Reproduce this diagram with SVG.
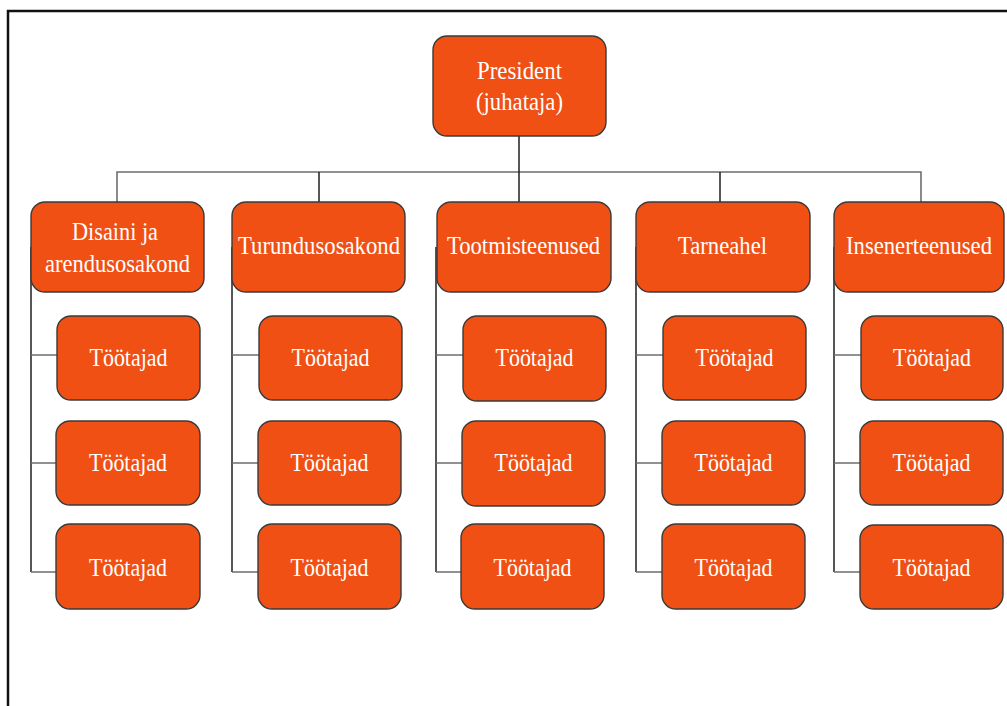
<svg xmlns="http://www.w3.org/2000/svg" width="1007" height="706" viewBox="0 0 1007 706">
  <style>
    .box { fill: #F05014; stroke: #3a3a3a; stroke-width: 1.4; }
    .lbl { fill: #ffffff; font-family: "Liberation Serif", "Times New Roman", serif; font-size: 26px; text-anchor: middle; }
    .ln { fill: none; stroke: #1e1e1e; stroke-width: 1.5; }
    .lg { fill: none; stroke: #6e6e6e; stroke-width: 1.6; }
  </style>
  <rect x="0" y="0" width="1007" height="706" fill="#ffffff"/>
  <!-- page frame -->
  <rect x="8" y="11" width="1010" height="710" fill="none" stroke="#111111" stroke-width="2.5"/>

  <g id="connectors">
    <!-- top bus -->
    <path class="lg" d="M117 202 V172 H921 V202"/>
    <path class="ln" d="M519 136 V202"/>
    <path class="ln" d="M319 172 V202"/>
    <path class="ln" d="M720 172 V202"/>
    <!-- column spines with branches -->
    <path class="ln" d="M31 247 V572"/>
    <path class="lg" d="M31 355 H57 M31 463 H57 M31 572 H57"/>
    <path class="ln" d="M232 247 V572"/>
    <path class="lg" d="M232 355 H259 M232 463 H259 M232 572 H259"/>
    <path class="ln" d="M436 247 V572"/>
    <path class="lg" d="M436 355 H463 M436 463 H463 M436 572 H463"/>
    <path class="ln" d="M636 247 V572"/>
    <path class="lg" d="M636 355 H663 M636 463 H663 M636 572 H663"/>
    <path class="ln" d="M834 247 V572"/>
    <path class="lg" d="M834 355 H861 M834 463 H861 M834 572 H861"/>
  </g>

  <g id="president">
    <rect class="box" x="433" y="36" width="173" height="100" rx="14"/>
    <text class="lbl" x="519.5" y="79" textLength="85" lengthAdjust="spacingAndGlyphs">President</text>
    <text class="lbl" x="519.5" y="110" textLength="87" lengthAdjust="spacingAndGlyphs">(juhataja)</text>
  </g>

  <g id="dept-disain">
    <rect class="box" x="31" y="202" width="173" height="90" rx="14"/>
    <text class="lbl" x="115" y="240" textLength="86" lengthAdjust="spacingAndGlyphs">Disaini ja</text>
    <text class="lbl" x="117.5" y="272" textLength="145" lengthAdjust="spacingAndGlyphs">arendusosakond</text>
  </g>
  <g id="dept-turundus">
    <rect class="box" x="232" y="202" width="173" height="90" rx="14"/>
    <text class="lbl" x="319" y="254" textLength="162" lengthAdjust="spacingAndGlyphs">Turundusosakond</text>
  </g>
  <g id="dept-tootmine">
    <rect class="box" x="437" y="202" width="174" height="90" rx="14"/>
    <text class="lbl" x="523.5" y="254" textLength="153" lengthAdjust="spacingAndGlyphs">Tootmisteenused</text>
  </g>
  <g id="dept-tarneahel">
    <rect class="box" x="636" y="202" width="174" height="90" rx="14"/>
    <text class="lbl" x="722.5" y="254" textLength="89" lengthAdjust="spacingAndGlyphs">Tarneahel</text>
  </g>
  <g id="dept-insener">
    <rect class="box" x="834" y="202" width="170" height="90" rx="14"/>
    <text class="lbl" x="919" y="254" font-size="25" textLength="146" lengthAdjust="spacingAndGlyphs">Insenerteenused</text>
  </g>

  <!-- staff boxes -->
  <g id="staff-1a"><rect class="box" x="57" y="316" width="143" height="84" rx="14"/><text class="lbl" x="128.5" y="366" textLength="78" lengthAdjust="spacingAndGlyphs">Töötajad</text></g>
  <g id="staff-1b"><rect class="box" x="56" y="421" width="144" height="84" rx="14"/><text class="lbl" x="128" y="471" textLength="78" lengthAdjust="spacingAndGlyphs">Töötajad</text></g>
  <g id="staff-1c"><rect class="box" x="56" y="524" width="144" height="85" rx="14"/><text class="lbl" x="128" y="576" textLength="78" lengthAdjust="spacingAndGlyphs">Töötajad</text></g>

  <g id="staff-2a"><rect class="box" x="259" y="316" width="143" height="84" rx="14"/><text class="lbl" x="330.5" y="366" textLength="78" lengthAdjust="spacingAndGlyphs">Töötajad</text></g>
  <g id="staff-2b"><rect class="box" x="258" y="421" width="143" height="84" rx="14"/><text class="lbl" x="329.5" y="471" textLength="78" lengthAdjust="spacingAndGlyphs">Töötajad</text></g>
  <g id="staff-2c"><rect class="box" x="258" y="524" width="143" height="85" rx="14"/><text class="lbl" x="329.5" y="576" textLength="78" lengthAdjust="spacingAndGlyphs">Töötajad</text></g>

  <g id="staff-3a"><rect class="box" x="463" y="316" width="143" height="85" rx="14"/><text class="lbl" x="534.5" y="366" textLength="78" lengthAdjust="spacingAndGlyphs">Töötajad</text></g>
  <g id="staff-3b"><rect class="box" x="462" y="421" width="143" height="85" rx="14"/><text class="lbl" x="533.5" y="471" textLength="78" lengthAdjust="spacingAndGlyphs">Töötajad</text></g>
  <g id="staff-3c"><rect class="box" x="461" y="524" width="143" height="85" rx="14"/><text class="lbl" x="532.5" y="576" textLength="78" lengthAdjust="spacingAndGlyphs">Töötajad</text></g>

  <g id="staff-4a"><rect class="box" x="663" y="316" width="143" height="84" rx="14"/><text class="lbl" x="734.5" y="366" textLength="78" lengthAdjust="spacingAndGlyphs">Töötajad</text></g>
  <g id="staff-4b"><rect class="box" x="662" y="421" width="143" height="84" rx="14"/><text class="lbl" x="733.5" y="471" textLength="78" lengthAdjust="spacingAndGlyphs">Töötajad</text></g>
  <g id="staff-4c"><rect class="box" x="662" y="524" width="143" height="85" rx="14"/><text class="lbl" x="733.5" y="576" textLength="78" lengthAdjust="spacingAndGlyphs">Töötajad</text></g>

  <g id="staff-5a"><rect class="box" x="861" y="316" width="142" height="84" rx="14"/><text class="lbl" x="932" y="366" textLength="78" lengthAdjust="spacingAndGlyphs">Töötajad</text></g>
  <g id="staff-5b"><rect class="box" x="860" y="421" width="143" height="84" rx="14"/><text class="lbl" x="931.5" y="471" textLength="78" lengthAdjust="spacingAndGlyphs">Töötajad</text></g>
  <g id="staff-5c"><rect class="box" x="860" y="525" width="143" height="84" rx="14"/><text class="lbl" x="931.5" y="576" textLength="78" lengthAdjust="spacingAndGlyphs">Töötajad</text></g>
</svg>
